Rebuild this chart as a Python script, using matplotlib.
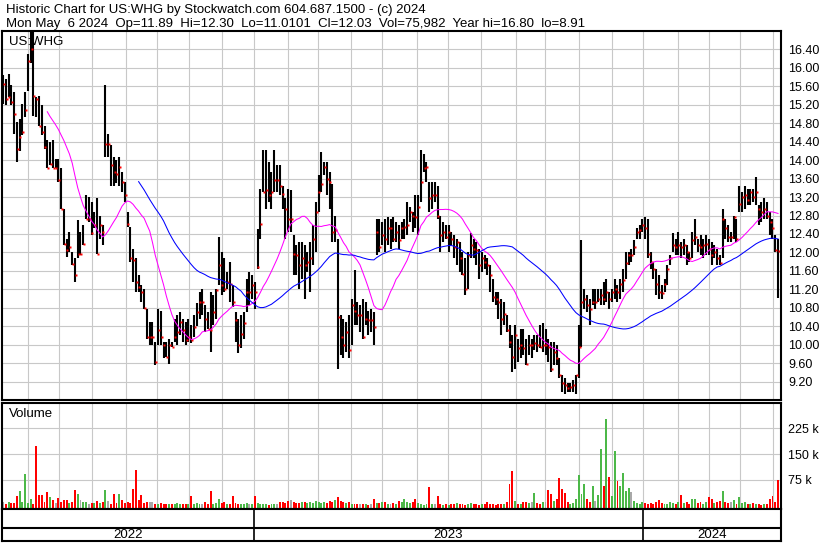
import numpy as np
import pandas as pd
import matplotlib
matplotlib.use("Agg")
import matplotlib.pyplot as plt

plt.rcParams['font.family'] = ['Liberation Sans', 'DejaVu Sans']

# one bar per ~2 sessions, May 2022 -> May 6 2024
high = [
    15.84, 15.76, 15.87, 15.62, 15.48, 14.83, 14.90, 15.22, 15.48, 16.30, 16.78, 16.78, 15.37, 15.40, 15.19, 14.75,
    14.43, 14.39, 14.43, 14.03, 14.03, 13.82, 12.95, 12.30, 12.44, 12.01, 11.87, 12.70, 12.44, 12.59, 13.24, 13.20,
    13.09, 12.88, 13.17, 12.80, 12.59, 15.62, 14.57, 14.32, 14.07, 14.00, 14.07, 13.74, 13.53, 12.88, 12.55, 12.08,
    11.87, 11.50, 11.29, 11.21, 10.78, 10.49, 10.49, 10.06, 10.78, 10.74, 10.06, 10.06, 10.13, 10.06, 10.56, 10.64,
    10.71, 10.56, 10.49, 10.56, 10.42, 10.64, 10.90, 11.14, 11.21, 10.85, 10.71, 11.14, 11.07, 11.21, 12.33, 12.01,
    11.87, 11.58, 11.79, 11.29, 10.71, 10.56, 10.64, 10.71, 11.43, 11.58, 11.50, 11.36, 12.51, 13.38, 14.21,
    14.21, 13.96, 13.74, 14.21, 13.89, 13.89, 13.45, 13.17, 13.38, 13.35, 12.37, 12.15, 12.23, 12.23, 12.15, 12.01,
    12.23, 12.59, 13.09, 13.67, 14.18, 13.96, 13.96, 13.74, 13.49, 12.80, 12.30, 10.64, 10.56, 10.49, 10.64, 11.00,
    11.61, 10.93, 10.85, 11.00, 10.93, 10.74, 10.78, 10.71, 12.73, 12.73, 12.66, 12.73, 12.77, 12.73, 12.77,
    12.66, 12.59, 12.66, 12.73, 13.09, 12.98, 12.88, 13.24, 13.24, 14.21, 14.14, 13.96, 13.53, 13.53, 13.53, 13.45,
    12.80, 12.66, 12.59, 12.59, 12.44, 12.37, 12.30, 12.23, 12.01, 11.87, 12.01, 12.41, 12.30, 12.23, 12.08, 12.01,
    11.94, 11.87, 11.72, 11.43, 11.14, 11.14, 11.00, 10.93, 10.64, 10.42, 10.20, 10.42, 10.13, 10.35, 10.35,
    10.13, 10.20, 10.13, 10.20, 10.20, 10.42, 10.46, 10.35, 10.13, 10.06, 10.06, 9.99, 9.70, 9.34, 9.27, 9.16,
    9.16, 9.23, 9.34, 10.42, 12.26, 11.21, 11.07, 11.00, 11.21, 11.21, 11.21, 11.21, 11.36, 11.43, 11.14, 11.21,
    11.43, 11.29, 11.43, 11.65, 12.01, 12.01, 12.08, 12.26, 12.52, 12.59, 12.73, 12.77, 12.73, 12.01, 11.79,
    11.65, 11.50, 11.29, 11.43, 11.72, 11.94, 12.41, 12.30, 12.44, 12.23, 12.30, 12.15, 12.01, 12.44, 12.73, 12.30,
    12.37, 12.30, 12.37, 12.30, 12.23, 12.15, 12.08, 11.94, 12.95, 12.73, 12.59, 12.44, 12.80, 12.73, 13.45, 13.31,
    13.45, 13.38, 13.38, 13.38, 13.63, 13.02, 13.09, 13.17, 13.09, 12.88, 12.73, 12.37, 12.30,
]
low = [
    15.22, 15.19, 15.37, 15.19, 14.57, 13.96, 14.20, 14.54, 14.93, 15.50, 16.10, 14.95, 14.93, 14.75, 14.54, 14.25,
    13.82, 13.89, 13.82, 13.82, 13.53, 12.95, 12.15, 11.90, 12.01, 11.72, 11.36, 11.87, 11.94, 12.15, 12.73, 12.66,
    12.37, 12.52, 11.97, 12.30, 12.15, 14.07, 14.07, 13.45, 13.45, 13.50, 13.45, 13.31, 13.09, 12.55, 11.79, 11.36,
    11.14, 11.14, 10.93, 10.78, 10.13, 9.99, 9.99, 9.55, 9.99, 9.99, 9.70, 9.73, 9.59, 9.95, 10.06, 9.99,
    10.20, 10.06, 9.99, 10.06, 10.03, 10.17, 10.40, 10.56, 10.64, 10.28, 10.35, 9.84, 10.42, 10.56, 11.29, 11.07,
    11.14, 11.21, 10.93, 10.82, 10.06, 9.81, 9.92, 10.13, 10.71, 10.85, 11.00, 10.78, 11.65, 12.30, 13.31,
    12.95, 13.09, 12.95, 13.31, 13.31, 13.24, 12.95, 12.30, 12.44, 12.44, 11.50, 11.50, 11.21, 11.43, 11.00, 11.58,
    11.14, 11.72, 12.01, 12.88, 13.31, 13.67, 13.24, 12.95, 12.23, 12.23, 9.48, 9.77, 9.70, 9.84, 9.70, 9.99,
    10.42, 10.42, 10.28, 10.13, 10.42, 10.20, 10.28, 9.99, 11.94, 12.01, 12.15, 12.01, 12.15, 12.08, 12.23,
    12.23, 12.08, 12.30, 12.30, 12.37, 12.66, 12.44, 12.52, 12.37, 13.09, 13.74, 13.53, 12.88, 12.95, 13.09, 12.73,
    12.01, 12.23, 12.30, 12.01, 12.15, 11.87, 11.72, 11.58, 11.50, 11.07, 11.21, 11.87, 11.87, 11.72, 11.43, 11.58,
    11.65, 11.50, 11.14, 10.93, 10.85, 10.56, 10.20, 10.42, 10.28, 9.92, 9.41, 9.48, 9.63, 9.70, 9.77,
    9.55, 9.77, 9.70, 9.88, 9.84, 9.92, 9.84, 9.77, 9.63, 9.41, 9.55, 9.55, 9.27, 8.98, 8.94, 8.98,
    8.98, 8.98, 8.94, 9.27, 9.95, 10.78, 10.71, 10.42, 10.85, 10.78, 10.93, 10.85, 10.85, 10.93, 10.78, 10.93,
    11.00, 10.93, 11.00, 11.14, 11.43, 11.72, 11.79, 11.94, 12.30, 12.30, 12.44, 12.30, 11.87, 11.65, 11.43,
    11.07, 11.00, 11.00, 11.14, 11.29, 11.72, 12.01, 11.94, 11.94, 11.87, 11.94, 11.72, 11.79, 11.87, 12.15, 12.01,
    11.94, 11.87, 11.94, 11.94, 11.72, 11.87, 11.72, 11.72, 11.87, 12.30, 12.23, 12.23, 12.30, 12.23, 12.88, 12.88,
    12.95, 13.02, 13.02, 13.09, 13.02, 12.59, 12.66, 12.73, 12.73, 12.37, 12.30, 12.01, 11.01,
]
close = [
    15.66, 15.33, 15.37, 15.26, 15.01, 14.25, 14.50, 14.61, 15.08, 16.16, 16.41, 15.40, 15.33, 14.75, 14.61, 14.28,
    13.82, 13.92, 13.82, 13.82, 13.56, 12.95, 12.19, 12.05, 12.12, 11.74, 11.50, 11.97, 11.97, 12.19, 12.73, 12.73,
    12.41, 12.59, 11.97, 12.59, 12.44, 14.36, 14.36, 13.89, 13.74, 13.70, 13.85, 13.53, 13.24, 12.62, 11.87, 11.83,
    11.36, 11.25, 11.14, 10.80, 10.17, 10.17, 10.17, 9.63, 10.31, 10.17, 9.99, 9.73, 9.99, 9.95, 10.17, 10.28,
    10.49, 10.31, 10.10, 10.17, 10.10, 10.38, 10.70, 10.93, 10.93, 10.56, 10.35, 10.31, 10.71, 11.19, 11.72, 11.29,
    11.21, 11.36, 11.32, 10.93, 10.53, 9.99, 10.24, 10.46, 11.14, 11.14, 11.30, 11.14, 11.69, 12.62, 13.31,
    13.35, 13.24, 13.31, 13.56, 13.56, 13.45, 13.27, 12.95, 12.73, 12.73, 11.97, 11.94, 11.72, 11.87, 11.72, 11.79,
    11.87, 12.30, 12.88, 13.31, 13.49, 13.85, 13.60, 13.53, 12.44, 12.48, 10.60, 10.17, 9.99, 10.28, 9.88, 10.85,
    10.74, 10.64, 10.64, 10.17, 10.56, 10.53, 10.53, 10.38, 12.44, 12.12, 12.37, 12.30, 12.52, 12.52, 12.30,
    12.44, 12.26, 12.52, 12.55, 12.59, 12.88, 12.80, 12.77, 12.98, 13.53, 13.82, 13.85, 13.17, 13.24, 13.24, 12.80,
    12.37, 12.44, 12.33, 12.44, 12.30, 12.12, 12.23, 11.87, 11.54, 11.21, 11.94, 12.15, 12.08, 12.05, 11.72, 11.87,
    11.79, 11.72, 11.50, 11.03, 11.00, 10.93, 10.56, 10.67, 10.31, 10.06, 9.73, 10.20, 9.92, 9.99, 9.92,
    9.59, 9.99, 9.99, 10.03, 9.99, 9.95, 9.99, 9.99, 9.95, 9.48, 9.84, 9.70, 9.34, 9.16, 9.12, 9.05,
    9.09, 9.12, 9.34, 9.95, 10.93, 11.00, 10.85, 10.78, 10.93, 10.93, 11.00, 11.07, 11.00, 11.14, 11.00, 11.14,
    11.21, 11.14, 11.32, 11.40, 11.76, 11.94, 11.94, 12.12, 12.44, 12.48, 12.59, 12.52, 11.97, 11.79, 11.65,
    11.32, 11.14, 11.11, 11.32, 11.65, 11.87, 12.15, 12.12, 12.15, 12.12, 12.15, 12.01, 11.87, 12.26, 12.33, 12.15,
    12.12, 12.15, 12.19, 12.08, 11.94, 12.01, 11.87, 11.76, 12.73, 12.52, 12.33, 12.33, 12.77, 12.30, 13.06, 13.20,
    13.24, 13.13, 13.31, 13.20, 13.31, 12.95, 12.88, 12.95, 12.80, 12.66, 12.52, 12.05, 12.03,
]
# volume in thousands of shares
volume_k = [
    10, 6, 12, 9, 7, 29, 43, 12, 92, 8,
    20, 6, 172, 31, 31, 10, 40, 26, 16, 9,
    22, 12, 16, 16, 8, 10, 46, 34, 16, 10,
    12, 6, 9, 8, 14, 7, 10, 46, 14, 6,
    33, 9, 34, 16, 8, 12, 8, 49, 104, 16,
    31, 8, 12, 12, 10, 6, 5, 8, 6, 4,
    6, 5, 4, 7, 5, 4, 6, 5, 29, 6,
    8, 5, 4, 10, 5, 43, 6, 8, 20, 7,
    10, 5, 6, 29, 8, 5, 6, 4, 7, 5,
    6, 29, 8, 5, 4, 6, 3, 4, 5, 6,
    10, 12, 8, 14, 16, 10, 7, 9, 12, 10,
    8, 12, 9, 14, 10, 7, 12, 9, 14, 10,
    16, 26, 15, 12, 8, 10, 6, 5, 4, 6,
    4, 5, 3, 6, 20, 8, 7, 10, 12, 6,
    5, 8, 6, 14, 10, 20, 12, 8, 10, 20,
    8, 4, 3, 5, 54, 6, 4, 29, 5, 3,
    4, 3, 5, 4, 9, 5, 4, 3, 4, 9,
    5, 4, 3, 6, 4, 10, 5, 4, 3, 4,
    5, 6, 12, 63, 101, 14, 5, 6, 10, 12,
    8, 10, 37, 9, 6, 12, 10, 46, 34, 14,
    18, 81, 49, 36, 10, 6, 8, 20, 90, 34,
    64, 18, 10, 58, 14, 30, 165, 58, 252, 82,
    27, 159, 72, 58, 96, 44, 52, 40, 14, 8,
    6, 10, 8, 6, 7, 5, 10, 16, 8, 6,
    5, 10, 8, 6, 12, 30, 8, 10, 6, 20,
    20, 8, 12, 6, 10, 24, 20, 8, 10, 14,
    43, 12, 8, 10, 17, 6, 24, 8, 10, 6,
    5, 8, 4, 6, 3, 5, 6, 20, 27, 12,
    76,
]

# bar index where each month starts (Jun 2022 .. May 2024)
month_starts = [8.9, 20.3, 32.0, 44.4, 55.8, 67.3, 79.3, 90.8, 103.0, 113.8, 125.6, 137.1,
                149.4, 160.8, 172.6, 185.2, 195.7, 208.1, 220.1, 231.1, 243.8, 255.0, 266.3, 278.1]
year_labels = ['2022', '2023', '2024']
year_breaks = [month_starts[7], month_starts[19]]
price_ticks = [16.4, 16.0, 15.6, 15.2, 14.8, 14.4, 14.0, 13.6, 13.2, 12.8, 12.4, 12.0,
               11.6, 11.2, 10.8, 10.4, 10.0, 9.6, 9.2]
vol_ticks = [75, 150, 225]
ma_fast, ma_slow = 17, 50   # ~30 and ~90 sessions

n = len(close)
assert len(high) == n and len(low) == n and len(volume_k) == n, (len(high), len(low), len(close), len(volume_k))
idx = np.arange(n)
closes = pd.Series(close)

W, H = 830, 543
def box(x0, y0, x1, y1):
    return [x0 / W, 1 - y1 / H, (x1 - x0) / W, (y1 - y0) / H]

fig = plt.figure(figsize=(W / 100, H / 100), dpi=100)
grid_c = '#c8c8c8'
xlim = (-0.36, n - 1 + 1.08)

fig.text(6 / W, 1 - 10.5 / H, 'Historic Chart for US:WHG by Stockwatch.com 604.687.1500 - (c) 2024',
         fontsize=9.5, va='center', ha='left')
fig.text(6 / W, 1 - 23.5 / H,
         'Mon May  6 2024  Op=11.89  Hi=12.30  Lo=11.0101  Cl=12.03  Vol=75,982  Year hi=16.80  lo=8.91',
         fontsize=9.5, va='center', ha='left')

# price panel
ax = fig.add_axes(box(2, 31, 781, 400))
ax.set_xlim(xlim)
ax.set_ylim(8.8, 16.8)
ax.set_xticks(month_starts)
ax.set_yticks(price_ticks)
ax.set_yticklabels([f'{t:.2f}' for t in price_ticks])
ax.yaxis.tick_right()
ax.tick_params(axis='x', length=0, labelbottom=False)
ax.tick_params(axis='y', length=0, pad=5, labelsize=9)
ax.grid(color=grid_c, lw=0.8)
ax.set_axisbelow(True)
ax.vlines(idx, low, high, colors='black', lw=1.5)
ax.plot(idx + 0.3, close, ls='none', marker='s', ms=1.8, mfc='red', mec='none')
ax.plot(idx, closes.rolling(ma_fast).mean(), color='#ff00ff', lw=0.75)
ax.plot(idx, closes.rolling(ma_slow).mean(), color='#0000ff', lw=0.75)
ax.text(0.009, 0.971, 'US:WHG', transform=ax.transAxes, fontsize=9.5, va='center', ha='left')
for s in ax.spines.values():
    s.set_linewidth(1.5)

# volume panel
chg = np.diff(close, prepend=close[0])
vcols = np.where(chg > 0, '#4cb848', np.where(chg < 0, '#ff0000', '#a8a8a8'))
vfloor = -9.6
axv = fig.add_axes(box(2, 403, 781, 509))
axv.set_xlim(xlim)
axv.set_ylim(vfloor, 298)
axv.set_xticks(month_starts)
axv.set_yticks(vol_ticks)
axv.set_yticklabels([f'{t} k' for t in vol_ticks])
axv.yaxis.tick_right()
axv.tick_params(axis='x', length=0, labelbottom=False)
axv.tick_params(axis='y', length=0, pad=5, labelsize=9)
axv.grid(color=grid_c, lw=0.8)
axv.set_axisbelow(True)
axv.bar(idx, np.array(volume_k) - vfloor, bottom=vfloor, width=0.7, color=vcols)
axv.text(0.009, 0.9, 'Volume', transform=axv.transAxes, fontsize=9.5, va='center', ha='left')
for s in axv.spines.values():
    s.set_linewidth(1.5)

# date strip
axd = fig.add_axes(box(2, 509, 781, 541))
axd.set_xlim(xlim)
axd.set_ylim(0, 1)
axd.set_xticks([])
axd.set_yticks([])
axd.axhline(0.42, color='black', lw=1.5)
for b in year_breaks:
    axd.axvline(b, color='black', lw=1.2)
edges = [xlim[0]] + year_breaks + [xlim[1]]
for lab, a, b in zip(year_labels, edges[:-1], edges[1:]):
    axd.text((a + b) / 2, 0.2, lab, fontsize=9.5, ha='center', va='center')
for s in axd.spines.values():
    s.set_linewidth(1.5)

fig.savefig('out.png', dpi=100)
